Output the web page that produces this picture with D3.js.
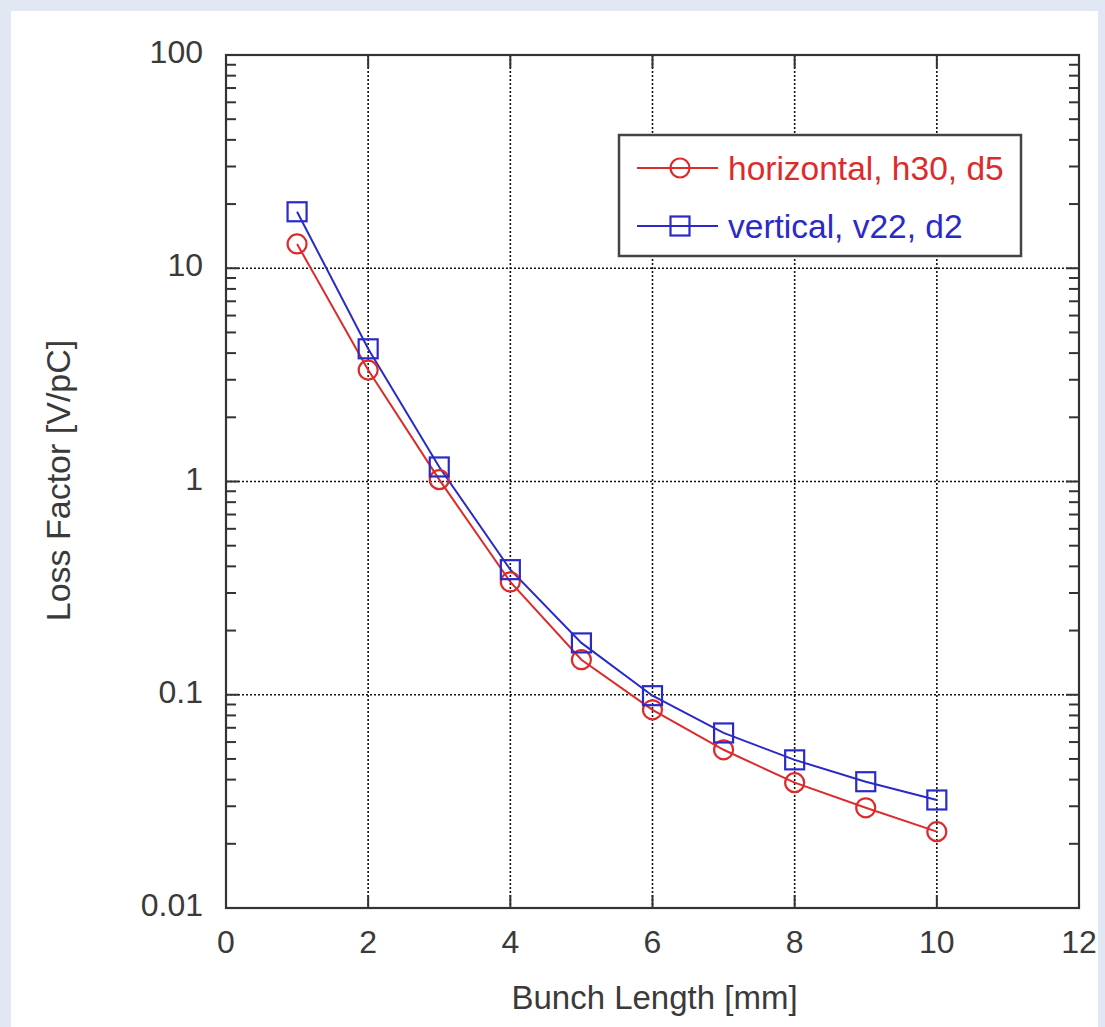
<!DOCTYPE html>
<html><head><meta charset="utf-8">
<script src="https://cdn.jsdelivr.net/npm/d3@7"></script>
<style>
html,body{margin:0;padding:0;background:#e2e8f3;}
svg{display:block;}
text{font-family:"Liberation Sans",Arial,sans-serif;}
</style></head>
<body>
<svg id="chart" width="1105" height="1027"></svg>
<script>
const bunchLength = [1,2,3,4,5,6,7,8,9,10];
const horizontal = [13.0,3.33,1.02,0.338,0.146,0.085,0.0552,0.0387,0.0295,0.0228];
const vertical = [18.4,4.19,1.17,0.386,0.175,0.099,0.0662,0.0495,0.0391,0.0321];
const seriesNames = ["horizontal, h30, d5","vertical, v22, d2"];
const xTicks = [0,2,4,6,8,10,12];
const yTicks = [0.01,0.1,1,10,100];
const yTickLabels = ["0.01","0.1","1","10","100"];
const xLabel = "Bunch Length [mm]";
const yLabel = "Loss Factor [V/pC]";

const svg = d3.select("#chart");
svg.append("rect").attr("x",0).attr("y",0).attr("width",1105).attr("height",1027).attr("fill","#e2e8f3");
svg.append("rect").attr("x",11).attr("y",11).attr("width",1087).attr("height",1016).attr("fill","#ffffff");

const L=226,R=1079,T=55,B=908;
const x = d3.scaleLinear().domain([0,12]).range([L,R]);
const y = d3.scaleLog().domain([0.01,100]).range([B,T]);

const red="#dd2b2b", blue="#2a2ac8", axisCol="#333", textCol="#3a3a3a";

const g = svg.append("g");
g.selectAll(".gx").data(xTicks.filter(d=>d>0&&d<12)).enter().append("line")
 .attr("x1",d=>x(d)).attr("x2",d=>x(d)).attr("y1",T).attr("y2",B)
 .attr("stroke","#111").attr("stroke-width",1.6).attr("stroke-dasharray","2,2");
g.selectAll(".gy").data(yTicks.filter(d=>d>0.01&&d<100)).enter().append("line")
 .attr("x1",L).attr("x2",R).attr("y1",d=>y(d)).attr("y2",d=>y(d))
 .attr("stroke","#111").attr("stroke-width",1.6).attr("stroke-dasharray","2,2");

const minor=[];
for(let e=-2;e<2;e++){for(let m=2;m<=9;m++){minor.push(m*Math.pow(10,e));}}
const tk = svg.append("g").attr("stroke",axisCol).attr("stroke-width",2);
minor.forEach(v=>{
  tk.append("line").attr("x1",L).attr("x2",L+10).attr("y1",y(v)).attr("y2",y(v));
  tk.append("line").attr("x1",R).attr("x2",R-10).attr("y1",y(v)).attr("y2",y(v));
});
yTicks.forEach(v=>{
  tk.append("line").attr("x1",L).attr("x2",L+13).attr("y1",y(v)).attr("y2",y(v));
  tk.append("line").attr("x1",R).attr("x2",R-13).attr("y1",y(v)).attr("y2",y(v));
});
xTicks.forEach(v=>{
  tk.append("line").attr("x1",x(v)).attr("x2",x(v)).attr("y1",B).attr("y2",B-13);
  tk.append("line").attr("x1",x(v)).attr("x2",x(v)).attr("y1",T).attr("y2",T+13);
});

svg.append("rect").attr("x",L).attr("y",T).attr("width",R-L).attr("height",B-T)
 .attr("fill","none").attr("stroke",axisCol).attr("stroke-width",2.2);

svg.selectAll(".xl").data(xTicks).enter().append("text")
 .attr("x",d=>x(d)).attr("y",B+45).attr("text-anchor","middle")
 .attr("font-size",32).attr("fill",textCol).text(d=>d);
svg.selectAll(".yl").data(yTicks).enter().append("text")
 .attr("x",L-23).attr("y",d=>y(d)+8).attr("text-anchor","end")
 .attr("font-size",32).attr("fill",textCol).text((d,i)=>yTickLabels[i]);

svg.append("text").attr("x",(L+R)/2+2).attr("y",1009).attr("text-anchor","middle")
 .attr("font-size",33).attr("fill",textCol).text(xLabel);
svg.append("text").attr("transform","translate(70,"+((T+B)/2-1)+") rotate(-90)")
 .attr("text-anchor","middle").attr("font-size",34).attr("fill",textCol).text(yLabel);

const line = d3.line().x(d=>x(d[0])).y(d=>y(d[1]));
const hData = bunchLength.map((b,i)=>[b,horizontal[i]]);
const vData = bunchLength.map((b,i)=>[b,vertical[i]]);
svg.append("path").datum(hData).attr("d",line).attr("fill","none").attr("stroke",red).attr("stroke-width",2);
svg.append("path").datum(vData).attr("d",line).attr("fill","none").attr("stroke",blue).attr("stroke-width",2);
svg.selectAll(".hm").data(hData).enter().append("circle")
 .attr("cx",d=>x(d[0])).attr("cy",d=>y(d[1])).attr("r",9.5)
 .attr("fill","none").attr("stroke",red).attr("stroke-width",2.2);
svg.selectAll(".vm").data(vData).enter().append("rect")
 .attr("x",d=>x(d[0])-9.5).attr("y",d=>y(d[1])-9.5).attr("width",19).attr("height",19)
 .attr("fill","none").attr("stroke",blue).attr("stroke-width",2.2);

const lg = svg.append("g");
lg.append("rect").attr("x",619).attr("y",135).attr("width",402).attr("height",121)
 .attr("fill","#fff").attr("stroke","#444").attr("stroke-width",2.5);
const rows=[{c:red,m:"circle",yy:168},{c:blue,m:"square",yy:226}];
rows.forEach((r,i)=>{
  lg.append("line").attr("x1",637).attr("x2",718).attr("y1",r.yy).attr("y2",r.yy).attr("stroke",r.c).attr("stroke-width",2);
  if(r.m==="circle") lg.append("circle").attr("cx",680).attr("cy",r.yy).attr("r",9.5).attr("fill","none").attr("stroke",r.c).attr("stroke-width",2.2);
  else lg.append("rect").attr("x",670.5).attr("y",r.yy-9.5).attr("width",19).attr("height",19).attr("fill","none").attr("stroke",r.c).attr("stroke-width",2.2);
  lg.append("text").attr("x",728).attr("y",r.yy+12).attr("font-size",33.5).attr("fill",r.c).text(seriesNames[i]);
});
</script>
</body></html>
